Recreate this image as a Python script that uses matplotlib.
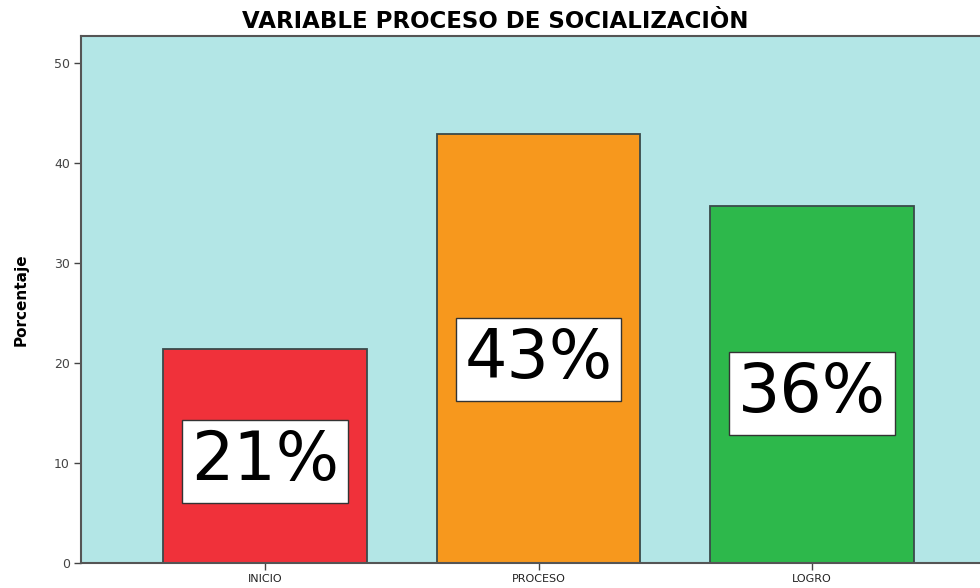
import matplotlib
matplotlib.use("Agg")
import matplotlib.pyplot as plt

categories = ["INICIO", "PROCESO", "LOGRO"]
values = [21.4, 42.9, 35.7]
labels = ["21%", "43%", "36%"]
colors = ["#f0313a", "#f7981d", "#2db84b"]
yticks = [0, 10, 20, 30, 40, 50]

fig = plt.figure(figsize=(9.8, 5.88), dpi=100)
ax = fig.add_axes([81/980, 25/588, (996-81)/980, (563-36)/588])
ax.set_facecolor("#b3e6e6")

x = list(range(len(categories)))
ax.bar(x, values, width=0.745, color=colors, edgecolor="#3a4a4a", linewidth=1.3, zorder=2)

for xi, v, lab in zip(x, values, labels):
    ax.text(xi, v * 0.475, lab, ha="center", va="center", fontsize=48,
            family="DejaVu Sans", color="black", zorder=3,
            bbox=dict(boxstyle="square,pad=0.13", facecolor="white", edgecolor="#333333", linewidth=1.0))

ax.set_xlim(-0.673, 2.673)
ax.set_ylim(0, 52.7)
ax.set_yticks(yticks)
ax.set_yticklabels([str(t) for t in yticks], fontsize=9, color="#444444")
ax.set_xticks(x)
ax.set_xticklabels(categories, fontsize=8, color="#222222")
ax.tick_params(axis="both", direction="out", length=5, width=1, color="#444444", pad=3)

for s in ["left", "top", "bottom"]:
    ax.spines[s].set_color("#555555")
    ax.spines[s].set_linewidth(1.5)
ax.spines["right"].set_visible(False)

ax.set_ylabel("Porcentaje", fontsize=11, fontweight="bold", labelpad=18)
fig.text(495/980, 1 - 21/588, "VARIABLE PROCESO DE SOCIALIZACIÒN", ha="center", va="center",
         fontsize=16.5, fontweight="bold", family="DejaVu Sans")

fig.savefig("out.png", dpi=100, facecolor="white")
